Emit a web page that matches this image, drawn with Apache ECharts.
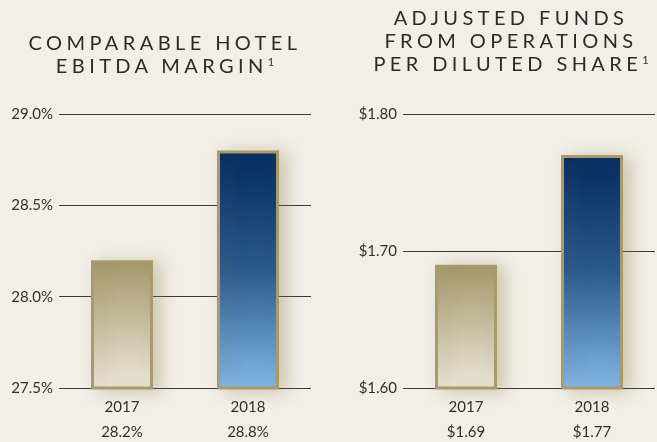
<!DOCTYPE html>
<html>
<head>
<meta charset="utf-8">
<script src="https://cdn.jsdelivr.net/npm/echarts@6/dist/echarts.min.js"></script>
<style>
  html, body { margin: 0; padding: 0; background: #f2efe8; }
  #wrap { position: relative; width: 657px; height: 442px; }
  #chart { position: absolute; left: 0; top: 0; width: 657px; height: 442px; }
  .ttl {
    position: absolute;
    font-family: Lato, sans-serif;
    font-size: 20px;
    line-height: 23px;
    letter-spacing: 4.4px;
    color: #2b2b2b;
    text-align: center;
    white-space: nowrap;
    padding-left: 4px;
  }
  .ttl sup { font-size: 11px; letter-spacing: 0; vertical-align: 7px; line-height: 0; }
</style>
</head>
<body>
<div id="wrap">
  <div id="chart"></div>
  <div class="ttl" style="left:8px; width:306px; top:31px;">COMPARABLE HOTEL<br>EBITDA MARGIN<sup>1</sup></div>
  <div class="ttl" style="left:354px; width:306px; top:6px;">ADJUSTED FUNDS<br>FROM OPERATIONS<br>PER DILUTED SHARE<sup>1</sup></div>
</div>
<script>
// data
var years = ['2017', '2018']
var marginValues = [28.2, 28.8]
var affoValues = [1.69, 1.77]
var marginTicks = [27.5, 28.0, 28.5, 29.0]
var affoTicks = [1.60, 1.70, 1.80]

var chart = echarts.init(document.getElementById('chart'))

var goldGrad = new echarts.graphic.LinearGradient(0, 0, 0, 1, [
  { offset: 0, color: '#a5986a' },
  { offset: 1, color: '#ebe6da' }
])
var blueGrad = new echarts.graphic.LinearGradient(0, 0, 0, 1, [
  { offset: 0, color: '#022a60' },
  { offset: 0.5, color: '#2a5a8e' },
  { offset: 1, color: '#82b8e8' }
])

function barData (vals) {
  return vals.map(function (v, i) {
    return {
      value: v,
      itemStyle: { color: i === 0 ? goldGrad : blueGrad }
    }
  })
}

var labelStyle = {
  color: '#2f2f2f',
  fontSize: 15,
  fontFamily: 'Lato'
}

function catAxis (gridIndex, vals, fmt) {
  return {
    type: 'category',
    gridIndex: gridIndex,
    data: years,
    axisLine: { show: false },
    axisTick: { show: false },
    axisLabel: Object.assign({
      margin: 7,
      lineHeight: 25,
      formatter: function (v, idx) {
        return v + '\n' + fmt(vals[idx])
      }
    }, labelStyle)
  }
}

function valAxis (gridIndex, ticks, interval, fmt) {
  return {
    type: 'value',
    gridIndex: gridIndex,
    min: ticks[0],
    max: ticks[ticks.length - 1],
    interval: interval,
    axisLine: { show: false },
    axisTick: { show: false },
    // 分格线
    splitLine: { lineStyle: { color: '#3a3a3a', width: 1 } },
    axisLabel: Object.assign({
      margin: 6,
      formatter: function (v) { return fmt(v) }
    }, labelStyle)
  }
}

var pctFmt = function (v) { return v.toFixed(1) + '%' }
var usdFmt = function (v) { return '$' + v.toFixed(2) }

var barStyle = {
  borderColor: '#a89a6b',
  borderWidth: 3,
  shadowColor: 'rgba(140, 120, 70, 0.35)',
  shadowBlur: 16,
  shadowOffsetX: 7,
  shadowOffsetY: 2
}

var option = {
  backgroundColor: '#f2efe8',
  animation: false,
  grid: [
    { left: 59, right: 346, top: 114, bottom: 54, containLabel: false, outerBoundsMode: 'none' },
    { left: 403, right: 2, top: 114, bottom: 54, containLabel: false, outerBoundsMode: 'none' }
  ],
  xAxis: [
    catAxis(0, marginValues, pctFmt),
    catAxis(1, affoValues, usdFmt)
  ],
  yAxis: [
    valAxis(0, marginTicks, 0.5, pctFmt),
    valAxis(1, affoTicks, 0.1, usdFmt)
  ],
  series: [
    {
      type: 'bar',
      xAxisIndex: 0,
      yAxisIndex: 0,
      barWidth: 62,
      itemStyle: barStyle,
      data: barData(marginValues)
    },
    {
      type: 'bar',
      xAxisIndex: 1,
      yAxisIndex: 1,
      barWidth: 62,
      itemStyle: barStyle,
      data: barData(affoValues)
    }
  ]
}

chart.setOption(option)
</script>
</body>
</html>
